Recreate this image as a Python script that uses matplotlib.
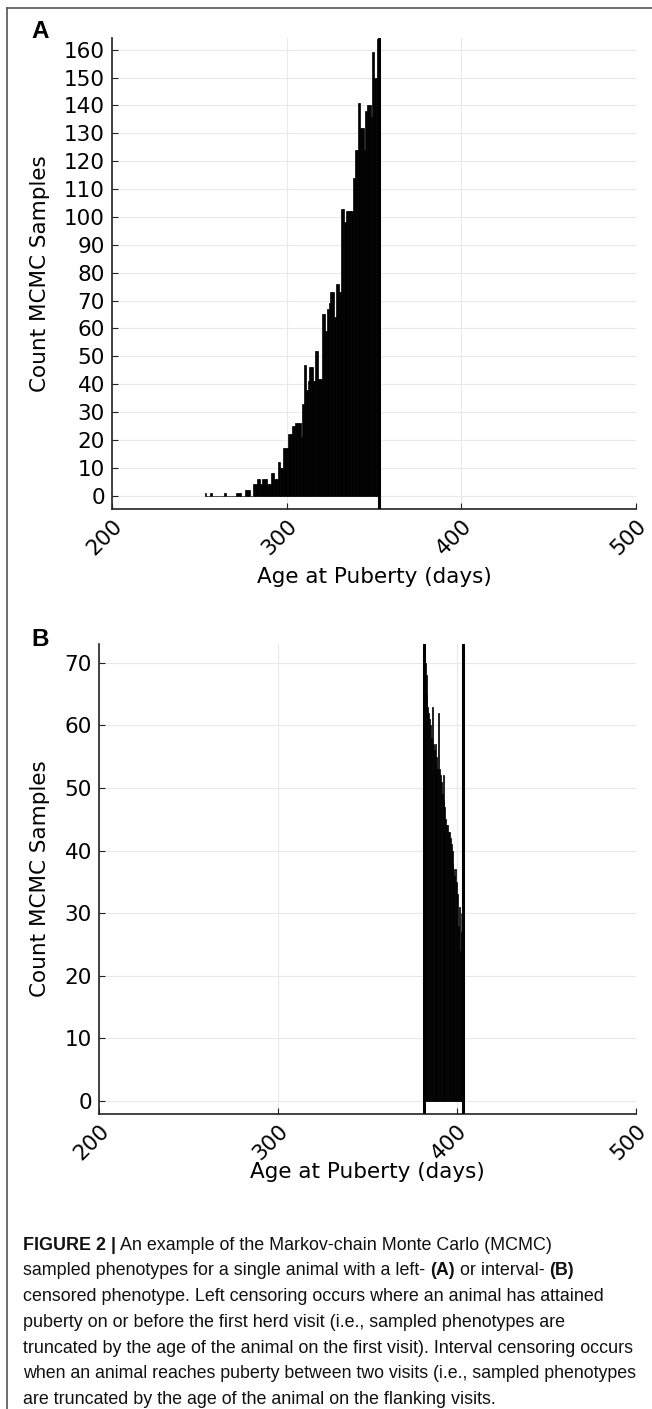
import numpy as np
import matplotlib
matplotlib.use("Agg")
import matplotlib.pyplot as plt
from matplotlib.lines import Line2D

W, H = 652, 1409
DPI = 100

# ---------------- data ----------------
x_ticks = [200, 300, 400, 500]
x_tick_labels = ["200", "300", "400", "500"]

# Panel A: left-censored animal, 1-day bins starting at day 253
a_bin_start = 253
a_bin_width = 1.0
a_counts = [1, 0, 0, 1, 0, 0, 0, 0, 0, 0,
            0, 1, 0, 0, 0, 0, 0, 0, 1, 1,
            1, 0, 0, 2, 2, 2, 0, 0, 4, 4,
            6, 6, 4, 6, 6, 6, 4, 4, 8, 8,
            6, 6, 12, 10, 10, 17, 17, 17, 22, 22,
            25, 25, 26, 26, 26, 21, 33, 47, 38, 41,
            46, 46, 41, 52, 52, 42, 42, 65, 65, 59,
            67, 69, 73, 73, 64, 76, 76, 73, 103, 103,
            98, 102, 102, 102, 102, 114, 124, 124, 141, 132,
            132, 124, 138, 140, 140, 136, 159, 150, 150, 164]
a_censor = [353]
a_yticks = list(range(0, 161, 10))

# Panel B: interval-censored animal, 0.5-day bins starting at day 381.5
b_bin_start = 381.5
b_bin_width = 0.5
b_counts = [71, 70, 68, 65, 63, 62, 61, 60, 58, 63,
            57, 56, 57, 54, 55, 53, 62, 53, 52, 51,
            49, 52, 48, 47, 45, 44, 44, 43, 43, 42,
            41, 40, 38, 37, 36, 37, 35, 33, 28, 31,
            24, 30, 27]
b_censor = [381.3, 403.1]
b_yticks = list(range(0, 71, 10))

ylabel_text = "Count MCMC Samples"
xlabel_text = "Age at Puberty (days)"

caption_lines = [
    [("FIGURE 2 |", True), (" An example of the Markov-chain Monte Carlo (MCMC)", False)],
    [("sampled phenotypes for a single animal with a left- ", False), ("(A)", True),
     (" or interval- ", False), ("(B)", True)],
    [("censored phenotype. Left censoring occurs where an animal has attained", False)],
    [("puberty on or before the first herd visit (i.e., sampled phenotypes are", False)],
    [("truncated by the age of the animal on the first visit). Interval censoring occurs", False)],
    [("when an animal reaches puberty between two visits (i.e., sampled phenotypes", False)],
    [("are truncated by the age of the animal on the flanking visits.", False)],
]

# ---------------- figure ----------------
fig = plt.figure(figsize=(W / DPI, H / DPI), dpi=DPI)
fig.patch.set_facecolor("white")

TICK_FS = 15.5
LABEL_FS = 15.5


def px(x, y):
    return x / W, 1 - y / H


def make_axes(left, top, right, bottom):
    return fig.add_axes([left / W, 1 - bottom / H, (right - left) / W, (bottom - top) / H])


def style_axes(ax, yticks, ylim):
    ax.set_xlim(200, 500)
    ax.set_ylim(*ylim)
    ax.set_xticks(x_ticks)
    ax.set_xticklabels(x_tick_labels, rotation=45, ha="right", va="top",
                       rotation_mode="anchor")
    ax.set_yticks(yticks)
    ax.set_yticklabels([str(v) for v in yticks])
    ax.tick_params(direction="in", length=4, width=0.8, labelsize=TICK_FS,
                   colors="#222222")
    ax.tick_params(axis="y", pad=5)
    ax.tick_params(axis="x", pad=5)
    ax.grid(True, color="#e9e9e9", linewidth=0.8)
    ax.set_axisbelow(True)
    for s in ["top", "right"]:
        ax.spines[s].set_visible(False)
    for s in ["left", "bottom"]:
        ax.spines[s].set_color("#222222")
        ax.spines[s].set_linewidth(1.2)
    for lab in ax.get_xticklabels() + ax.get_yticklabels():
        lab.set_color("black")


def draw_hist(ax, start, width, counts, censor):
    counts = np.asarray(counts, dtype=float)
    lefts = start + np.arange(len(counts)) * width
    ax.bar(lefts, counts, width=width, align="edge", color="black",
           edgecolor="black", linewidth=0.5, zorder=3)
    for c in censor:
        ax.axvline(c, color="black", linewidth=2.2, zorder=4)


# Panel A
axA = make_axes(112, 38, 636, 509)
style_axes(axA, a_yticks, (-4.8, 164.2))
draw_hist(axA, a_bin_start, a_bin_width, a_counts, a_censor)

# Panel B
axB = make_axes(99, 644, 636, 1114)
style_axes(axB, b_yticks, (-2.1, 73.0))
draw_hist(axB, b_bin_start, b_bin_width, b_counts, b_censor)

# axis labels
fig.text(*px(40, 273.5), ylabel_text, rotation=90, ha="center", va="center",
         fontsize=LABEL_FS)
fig.text(*px(374, 577), xlabel_text, ha="center", va="center", fontsize=LABEL_FS)
fig.text(*px(40, 879), ylabel_text, rotation=90, ha="center", va="center",
         fontsize=LABEL_FS)
fig.text(*px(367.5, 1172), xlabel_text, ha="center", va="center", fontsize=LABEL_FS)

# panel letters
fig.text(*px(40, 31), "A", ha="center", va="center", fontsize=17.5,
         fontweight="bold", family=["Liberation Sans", "DejaVu Sans"])
fig.text(*px(40, 639), "B", ha="center", va="center", fontsize=17.5,
         fontweight="bold", family=["Liberation Sans", "DejaVu Sans"])

# frame lines
fig.add_artist(Line2D([7 / W, 1.0], [1 - 8 / H, 1 - 8 / H], transform=fig.transFigure,
                      color="#555555", linewidth=1.2))
fig.add_artist(Line2D([7 / W, 7 / W], [1 - 8 / H, 0.0], transform=fig.transFigure,
                      color="#555555", linewidth=1.2))

# caption
CAP_FAMILY = ["Liberation Sans Narrow", "Liberation Sans", "DejaVu Sans"]
CAP_FS = 12.85
MAX_W = 614.0
renderer = fig.canvas.get_renderer()
y0, dy = 1245, 25.8


def line_width(segs, fs):
    total = 0.0
    for txt, bold in segs:
        t = fig.text(0, 0, txt, fontsize=fs, fontweight="bold" if bold else "normal",
                     family=CAP_FAMILY)
        total += t.get_window_extent(renderer=renderer).width
        t.remove()
    return total


for i, segs in enumerate(caption_lines):
    fs = CAP_FS
    w = line_width(segs, fs)
    if w > MAX_W:
        fs = fs * MAX_W / w
    x = 23.0
    y = y0 + i * dy
    for txt, bold in segs:
        t = fig.text(*px(x, y), txt, ha="left", va="center", fontsize=fs,
                     fontweight="bold" if bold else "normal", family=CAP_FAMILY,
                     color="#111111")
        bb = t.get_window_extent(renderer=renderer)
        x += bb.width

fig.savefig("out.png", dpi=DPI, facecolor="white")
